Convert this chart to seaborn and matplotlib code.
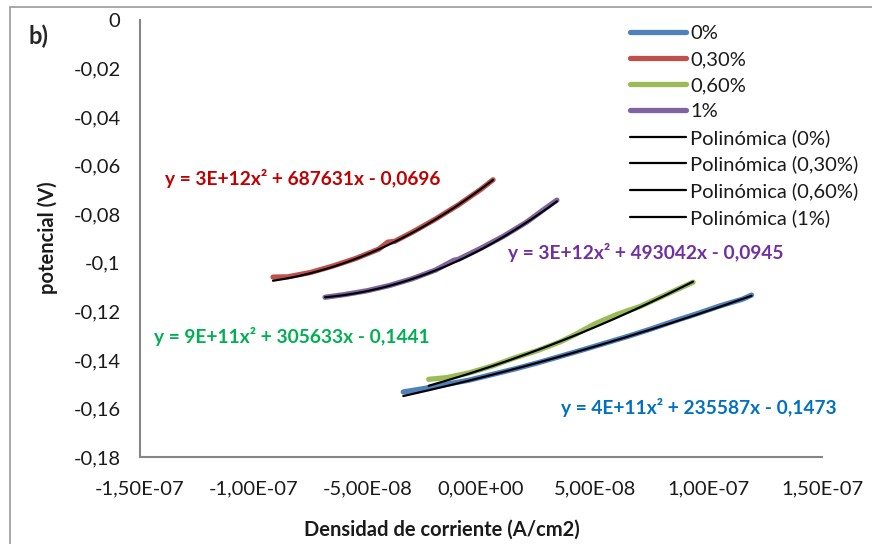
import numpy as np
import pandas as pd
import matplotlib
matplotlib.use("Agg")
import matplotlib.pyplot as plt
import seaborn as sns
from matplotlib.patches import Rectangle

# Polarisation curves: current density (A/cm2) vs potential (V)
x_0 = [-3.42e-8, -2.5e-8, -1.5e-8, -0.5e-8, 0.5e-8, 1.5e-8, 2.5e-8, 3.5e-8, 4.5e-8,
       5.5e-8, 6.5e-8, 7.5e-8, 8.5e-8, 9.5e-8, 10.5e-8, 11.5e-8, 11.9e-8]
y_0 = [-0.1532, -0.1518, -0.1500, -0.1483, -0.1460, -0.1437, -0.1412, -0.1385, -0.1358,
       -0.1330, -0.1302, -0.1272, -0.1240, -0.1210, -0.1178, -0.1150, -0.1133]

x_030 = [-9.15e-8, -8.5e-8, -7.5e-8, -6.5e-8, -5.5e-8, -4.5e-8, -4.1e-8, -3.8e-8,
         -3.0e-8, -2.0e-8, -1.0e-8, 0.0, 0.53e-8]
y_030 = [-0.1059, -0.1058, -0.1040, -0.1013, -0.0982, -0.0944, -0.0915, -0.0912,
         -0.0873, -0.0820, -0.0762, -0.0697, -0.0658]

x_060 = [-2.3e-8, -1.5e-8, -0.5e-8, 0.5e-8, 1.5e-8, 2.5e-8, 3.5e-8, 4.2e-8, 5.0e-8,
         6.0e-8, 7.0e-8, 8.0e-8, 9.33e-8]
y_060 = [-0.1480, -0.1473, -0.1453, -0.1425, -0.1391, -0.1361, -0.1325, -0.1293, -0.1252,
         -0.1212, -0.1180, -0.1137, -0.1080]

x_1 = [-6.86e-8, -6.0e-8, -5.0e-8, -4.0e-8, -3.0e-8, -2.0e-8, -1.2e-8, -1.0e-8, 0.0,
       1.0e-8, 2.0e-8, 2.8e-8, 3.34e-8]
y_1 = [-0.1142, -0.1131, -0.1115, -0.1093, -0.1065, -0.1030, -0.0990, -0.0986, -0.0940,
       -0.0890, -0.0833, -0.0778, -0.0742]

series_names = ["0%", "0,30%", "0,60%", "1%"]
series_colors = ["#4F81BD", "#C0504D", "#9BBB59", "#8064A2"]

# Second-order polynomial trendlines (a, b, c) as printed on the chart
trend_coefs = {
    "0%": (4e11, 235587, -0.1473),
    "0,30%": (3e12, 687631, -0.0696),
    "0,60%": (9e11, 305633, -0.1441),
    "1%": (3e12, 493042, -0.0945),
}
trend_labels = {
    "0%": "y = 4E+11x² + 235587x - 0,1473",
    "0,30%": "y = 3E+12x² + 687631x - 0,0696",
    "0,60%": "y = 9E+11x² + 305633x - 0,1441",
    "1%": "y = 3E+12x² + 493042x - 0,0945",
}
label_colors = {"0%": "#0070C0", "0,30%": "#C00000", "0,60%": "#00B050", "1%": "#7030A0"}
label_pos = {"0%": (3.5e-8, -0.1597), "0,30%": (-1.39e-7, -0.0651),
             "0,60%": (-1.44e-7, -0.1302), "1%": (1.2e-8, -0.0957)}

x_ticks = [-1.5e-7, -1.0e-7, -5.0e-8, 0.0, 5.0e-8, 1.0e-7, 1.5e-7]
x_tick_labels = ["-1,50E-07", "-1,00E-07", "-5,00E-08", "0,00E+00", "5,00E-08", "1,00E-07", "1,50E-07"]
y_ticks = [0, -0.02, -0.04, -0.06, -0.08, -0.1, -0.12, -0.14, -0.16, -0.18]
y_tick_labels = ["0", "-0,02", "-0,04", "-0,06", "-0,08", "-0,1", "-0,12", "-0,14", "-0,16", "-0,18"]

sns.set_style("white")
plt.rcParams["font.family"] = ["Lato", "DejaVu Sans"]

fig = plt.figure(figsize=(8.72, 5.44), dpi=100)
ax = fig.add_axes([140 / 872, 1 - 457 / 544, 682 / 872, 437 / 544])

data = {"0%": (x_0, y_0), "0,30%": (x_030, y_030), "0,60%": (x_060, y_060), "1%": (x_1, y_1)}

for name, color in zip(series_names, series_colors):
    xs, ys = data[name]
    df = pd.DataFrame({"x": xs, "y": ys})
    sns.lineplot(data=df, x="x", y="y", ax=ax, color=color, lw=3.8, sort=False,
                 label=name, solid_capstyle="round", zorder=2)

for name in series_names:
    xs, _ = data[name]
    a, b, c = trend_coefs[name]
    xt = np.linspace(min(xs), max(xs), 200)
    yt = a * xt ** 2 + b * xt + c
    sns.lineplot(x=xt, y=yt, ax=ax, color="black", lw=1.6, sort=False,
                 label=f"Polinómica ({name})", zorder=3)

for name in series_names:
    tx, ty = label_pos[name]
    ax.text(tx, ty, trend_labels[name], color=label_colors[name], fontsize=13.8,
            fontweight="bold", ha="left", va="center")

ax.set_xlim(-1.5e-7, 1.5e-7)
ax.set_ylim(-0.18, 0)
ax.set_xticks(x_ticks)
ax.set_xticklabels(x_tick_labels, fontsize=14.5)
ax.set_yticks(y_ticks)
ax.set_yticklabels(y_tick_labels, fontsize=14.5)
ax.tick_params(axis="y", length=0, pad=14, colors="#1a1a1a")
ax.tick_params(axis="x", length=0, pad=17, colors="#1a1a1a")
for side in ["top", "right"]:
    ax.spines[side].set_visible(False)
for side in ["left", "bottom"]:
    ax.spines[side].set_color("#868686")
    ax.spines[side].set_linewidth(1.5)

ax.set_xlabel("")
ax.set_ylabel("")
fig.text(442 / 872, 1 - 530 / 544, "Densidad de corriente (A/cm2)", fontsize=14.5,
         fontweight="bold", ha="center", va="center", color="#1a1a1a")
fig.text(48 / 872, 1 - 238 / 544, "potencial (V)", fontsize=14.5, fontweight="bold",
         ha="center", va="center", rotation=90, color="#1a1a1a")

leg = ax.legend(loc="upper left", bbox_to_anchor=(630 / 872, 1 - 25 / 544),
                bbox_transform=fig.transFigure, frameon=False, fontsize=14.5,
                handlelength=2.8, handletextpad=0.2, labelspacing=0.44, borderaxespad=0,
                borderpad=0)
for t in leg.get_texts():
    t.set_color("#1a1a1a")

fig.text(28 / 872, 1 - 36 / 544, "b)", fontsize=17, fontweight="bold", va="center")

fig.patches.append(Rectangle((10 / 872, -0.1), 1.2, 1 - 7 / 544 + 0.1,
                             transform=fig.transFigure, fill=False,
                             edgecolor="#9a9a9a", lw=1.2))

fig.savefig("out.png", dpi=100)
